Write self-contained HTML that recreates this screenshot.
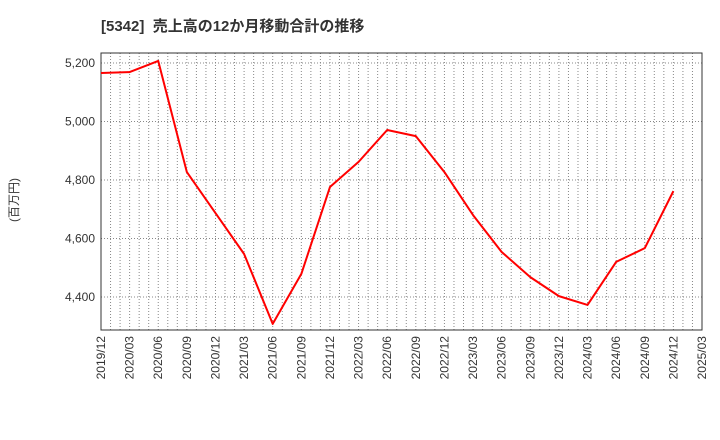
<!DOCTYPE html>
<html><head><meta charset="utf-8"><style>
body{margin:0;background:#fff;}
svg{display:block;font-family:"Liberation Sans","Noto Sans CJK JP",sans-serif;}
</style></head><body>
<svg id="chart" width="720" height="440">
<text x="101" y="31" font-size="15" font-weight="bold" fill="#333">[5342]&#160; 売上高の12か月移動合計の推移</text>
<text transform="translate(18,200) rotate(-90)" font-size="12" fill="#333" text-anchor="middle">(百万円)</text>
<g id="grid"></g><g id="axes"></g><g id="series"></g>
</svg>
<script>
const xLabels=["2019/12","2020/03","2020/06","2020/09","2020/12","2021/03","2021/06","2021/09","2021/12","2022/03","2022/06","2022/09","2022/12","2023/03","2023/06","2023/09","2023/12","2024/03","2024/06","2024/09","2024/12","2025/03"];
const yTicks=[4400,4600,4800,5000,5200];
const values=[5166,5169,5207,4827,4687,4547,4308,4479,4776,4862,4971,4950,4827,4680,4554,4468,4403,4373,4520,4567,4762];
const L=101,R=702,T=53,B=330;
const NS="http://www.w3.org/2000/svg";
const xs=i=>L+i*(R-L)/(xLabels.length-1);
const ys=v=>297-(v-4400)*(234/800);
function mk(t,a,p){const e=document.createElementNS(NS,t);for(const k in a)e.setAttribute(k,a[k]);p.appendChild(e);return e;}
const grid=document.getElementById('grid'),axes=document.getElementById('axes'),ser=document.getElementById('series');
for(let m=1;m<(xLabels.length-1)*3;m++){const x=L+m*(R-L)/((xLabels.length-1)*3);
const g=mk('line',{x1:x,x2:x,y1:T,y2:B,stroke:'#888','stroke-dasharray':'1,2','stroke-width':1},grid);
}
yTicks.forEach(v=>{const y=ys(v);
const g=mk('line',{x1:L,x2:R,y1:y,y2:y,stroke:'#888','stroke-dasharray':'1,2','stroke-width':1},grid);

const t=mk('text',{x:L-6,y:y+4,'font-size':12,fill:'#333','text-anchor':'end'},axes);t.textContent=v.toLocaleString('en-US');
});
xLabels.forEach((s,i)=>{const x=xs(i);
const t=mk('text',{transform:`translate(${x+4},${B+6}) rotate(-90)`,'font-size':12,fill:'#333','text-anchor':'end'},axes);t.textContent=s;
});
const fr=mk('rect',{x:L,y:T,width:R-L,height:B-T,fill:'none',stroke:'#333','stroke-width':1},axes);

const ln=mk('polyline',{points:values.map((v,i)=>xs(i)+','+ys(v)).join(' '),fill:'none',stroke:'#f00','stroke-width':2,'stroke-linejoin':'round'},ser);

</script>
</body></html>
